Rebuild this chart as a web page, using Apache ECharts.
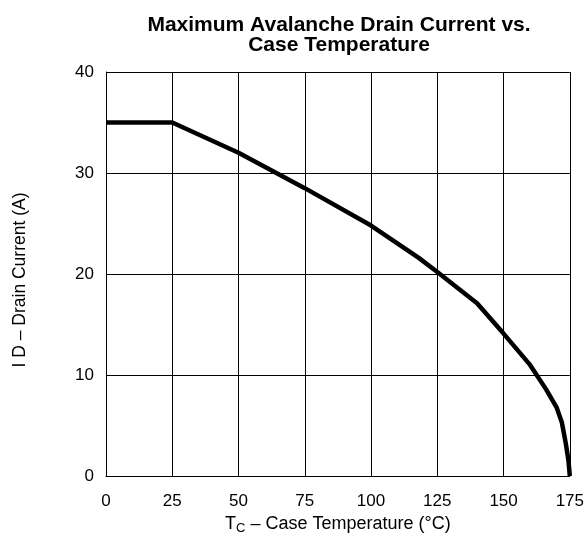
<!DOCTYPE html>
<html>
<head>
<meta charset="utf-8">
<script src="https://cdn.jsdelivr.net/npm/echarts@6/dist/echarts.min.js"></script>
<style>html,body{margin:0;padding:0;background:#fff;}#c{width:587px;height:544px;}</style>
</head>
<body>
<div id="c"></div>
<script>
const temps = [0, 25, 50, 75, 100, 118, 125, 140, 150, 160, 166, 170, 172, 173.5, 174.5, 175];
const currents = [35, 35, 32, 28.5, 24.8, 21.6, 20.2, 17.1, 14.1, 11, 8.6, 6.8, 5.3, 3.2, 1.5, 0];
const xTicks = [0, 25, 50, 75, 100, 125, 150, 175];
const yTicks = [0, 10, 20, 30, 40];

const chart = echarts.init(document.getElementById('c'));
const font = 'Liberation Sans, Arial, sans-serif';
chart.setOption({
  animation: false,
  title: {
    text: 'Maximum Avalanche Drain Current vs.\nCase Temperature',
    left: 334, top: 10, textAlign: 'center',
    textStyle: {fontFamily: font, fontSize: 21, fontWeight: 'bold', color: '#000', lineHeight: 20}
  },
  grid: {left: 106, right: 16, top: 72, bottom: 68},
  xAxis: {
    type: 'value', min: 0, max: 175, interval: 25,
    name: '{n|T}{s|C}{n| – Case Temperature (°C)}',
    nameLocation: 'middle', nameGap: 36,
    nameTextStyle: {rich: {
      n: {fontFamily: font, fontSize: 18, color: '#000'},
      s: {fontFamily: font, fontSize: 13, color: '#000', verticalAlign: 'bottom', padding: [9, 0, 0, 0]}
    }},
    axisLine: {show: true, lineStyle: {color: '#000', width: 1}},
    axisTick: {show: false},
    axisLabel: {fontFamily: font, fontSize: 17, color: '#000', margin: 17,
      customValues: xTicks},
    splitLine: {show: true, lineStyle: {color: '#000', width: 1}}
  },
  yAxis: {
    type: 'value', min: 0, max: 40, interval: 10,
    name: 'I D – Drain Current (A)',
    nameLocation: 'middle', nameGap: 77, nameRotate: 90,
    nameTextStyle: {fontFamily: font, fontSize: 17.5, color: '#000', padding: [0, 12, 0, 0]},
    axisLine: {show: true, lineStyle: {color: '#000', width: 1}},
    axisTick: {show: false},
    axisLabel: {fontFamily: font, fontSize: 17, color: '#000', margin: 12,
      customValues: yTicks},
    splitLine: {show: true, lineStyle: {color: '#000', width: 1}}
  },
  series: [{
    type: 'line',
    data: temps.map((t, i) => [t, currents[i]]),
    showSymbol: false,
    lineStyle: {color: '#000', width: 4.5},
    clip: false
  }]
});
</script>
</body>
</html>
